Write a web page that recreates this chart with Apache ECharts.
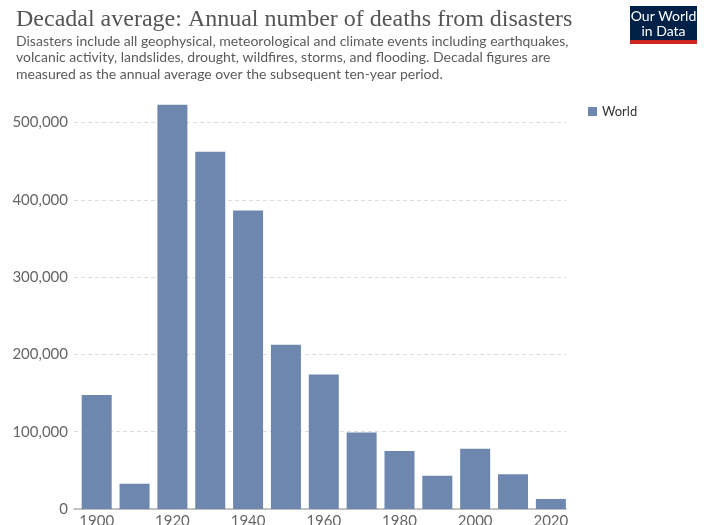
<!DOCTYPE html>
<html>
<head>
<meta charset="utf-8">
<script src="https://cdn.jsdelivr.net/npm/echarts@6/dist/echarts.min.js"></script>
<style>
html,body{margin:0;padding:0;background:#fff;}
#chart{width:717px;height:525px;}
</style>
</head>
<body>
<div id="chart"></div>
<script>
const decades = [1900, 1910, 1920, 1930, 1940, 1950, 1960, 1970, 1980, 1990, 2000, 2010, 2020];
const deaths = [147500, 32700, 523000, 462000, 386000, 212500, 174000, 99000, 75000, 43000, 78000, 45000, 13000];
const xTicks = [1900, 1920, 1940, 1960, 1980, 2000, 2020];
const yTicks = [0, 100000, 200000, 300000, 400000, 500000];
const seriesName = 'World';
const titleText = 'Decadal average: Annual number of deaths from disasters';
const subtitleText = 'Disasters include all geophysical, meteorological and climate events including earthquakes,\nvolcanic activity, landslides, drought, wildfires, storms, and flooding. Decadal figures are\nmeasured as the annual average over the subsequent ten-year period.';

const chart = echarts.init(document.getElementById('chart'), null, {renderer: 'canvas'});
const fmt = v => v.toLocaleString('en-US');

chart.setOption({
  animation: false,
  backgroundColor: '#fff',
  title: {
    text: titleText,
    subtext: subtitleText,
    left: 11,
    top: 3,
    itemGap: 1,
    textStyle: {fontFamily: 'Liberation Serif', fontSize: 24, fontWeight: 'normal', color: '#555'},
    subtextStyle: {fontFamily: 'Lato', fontSize: 14, color: '#5b5b5b', lineHeight: 16.5}
  },
  legend: {
    data: [seriesName],
    left: 583,
    top: 100,
    icon: 'rect',
    itemWidth: 9,
    itemHeight: 9,
    itemGap: 6,
    textStyle: {fontFamily: 'Lato', fontSize: 13, color: '#333'}
  },
  grid: {left: 74, right: 151, top: 104.7, bottom: 16, containLabel: false, outerBoundsMode: 'none'},
  xAxis: {
    type: 'value',
    min: 1894,
    max: 2024,
    axisLine: {show: true, lineStyle: {color: '#b0b0b0', width: 1.5}},
    axisTick: {show: false},
    splitLine: {show: false},
    axisLabel: {
      customValues: xTicks,
      fontFamily: 'Lato', fontSize: 15, color: '#666', margin: 5,
      formatter: v => String(v)
    }
  },
  yAxis: {
    type: 'value',
    min: 0,
    max: 523000,
    axisLine: {show: false},
    axisTick: {show: false, customValues: yTicks},
    splitLine: {show: true, lineStyle: {color: '#dddddd', type: [4, 3], width: 1}},
    axisLabel: {
      customValues: yTicks,
      fontFamily: 'Lato', fontSize: 15, color: '#666', margin: 6,
      formatter: v => fmt(v)
    }
  },
  series: [{
    name: seriesName,
    type: 'bar',
    barWidth: 30,
    data: decades.map((d, i) => [d, deaths[i]]),
    itemStyle: {color: '#6d87af'}
  }],
  graphic: [
    {type: 'rect', x: 630, y: 6, shape: {width: 67, height: 35}, style: {fill: '#002147'}},
    {type: 'rect', x: 630, y: 40, shape: {width: 67, height: 4}, style: {fill: '#ce261e'}},
    {type: 'text', x: 663.5, y: 9, z: 10, style: {text: 'Our World\nin Data', fill: '#ffffff', fontFamily: 'Lato', fontSize: 14, align: 'center', verticalAlign: 'top', lineHeight: 15}}
  ]
});
</script>
</body>
</html>
